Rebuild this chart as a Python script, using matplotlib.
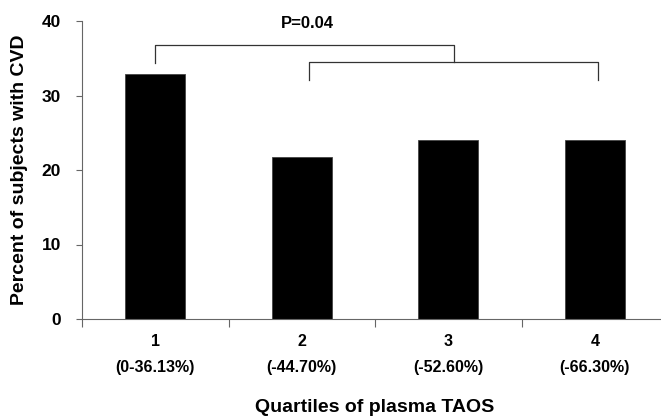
import matplotlib
matplotlib.use("Agg")
import matplotlib.pyplot as plt
import numpy as np

plt.rcParams['font.family'] = ['Liberation Sans', 'DejaVu Sans']
plt.rcParams['font.weight'] = 'bold'

# data
quartiles = ["1", "2", "3", "4"]
ranges = ["(0-36.13%)", "(-44.70%)", "(-52.60%)", "(-66.30%)"]
percent_cvd = [32.9, 21.7, 24.0, 24.0]
p_text = "P=0.04"

fig = plt.figure(figsize=(6.61, 4.18), dpi=100)
ax = fig.add_axes([82 / 661, 1 - 319 / 418, 586 / 661, 298 / 418])

x = np.arange(1, len(quartiles) + 1)
ax.bar(x, percent_cvd, width=0.41, color="black", edgecolor="#444444", linewidth=0.6)

ax.set_xlim(0.5, 4.5)
ax.set_ylim(0, 40)
ax.set_yticks([0, 10, 20, 30, 40])
ax.set_xticks(x)
ax.set_xticklabels([q + "\n" + r for q, r in zip(quartiles, ranges)], linespacing=1.9)
ax.set_xticks(np.arange(0.5, 4.6, 1.0), minor=True)
ax.tick_params(axis="x", which="major", length=0, pad=11, labelsize=11.5)
ax.tick_params(axis="x", which="minor", length=6, width=0.8, color="#666666", direction="out")
ax.tick_params(axis="y", length=4, width=0.8, color="#666666", pad=11, labelsize=12.5)

for s in ["top", "right"]:
    ax.spines[s].set_visible(False)
for s in ["left", "bottom"]:
    ax.spines[s].set_color("#666666")
    ax.spines[s].set_linewidth(0.8)

ax.set_ylabel("Percent of subjects with CVD", fontsize=14, fontweight="bold", labelpad=10)
ax.set_xlabel("Quartiles of plasma TAOS", fontsize=14, fontweight="bold", labelpad=17)

# significance brackets
lw = 0.9
ax.plot([1, 1, 3.04, 3.04], [34.4, 36.8, 36.8, 34.5], color="#333333", lw=lw, clip_on=False)
ax.plot([2.05, 2.05, 4.02, 4.02], [32.1, 34.5, 34.5, 32.1], color="#333333", lw=lw, clip_on=False)
ax.text(2.04, 39.7, p_text, ha="center", va="center", fontsize=12, fontweight="bold")

fig.savefig("out.png", dpi=100)
